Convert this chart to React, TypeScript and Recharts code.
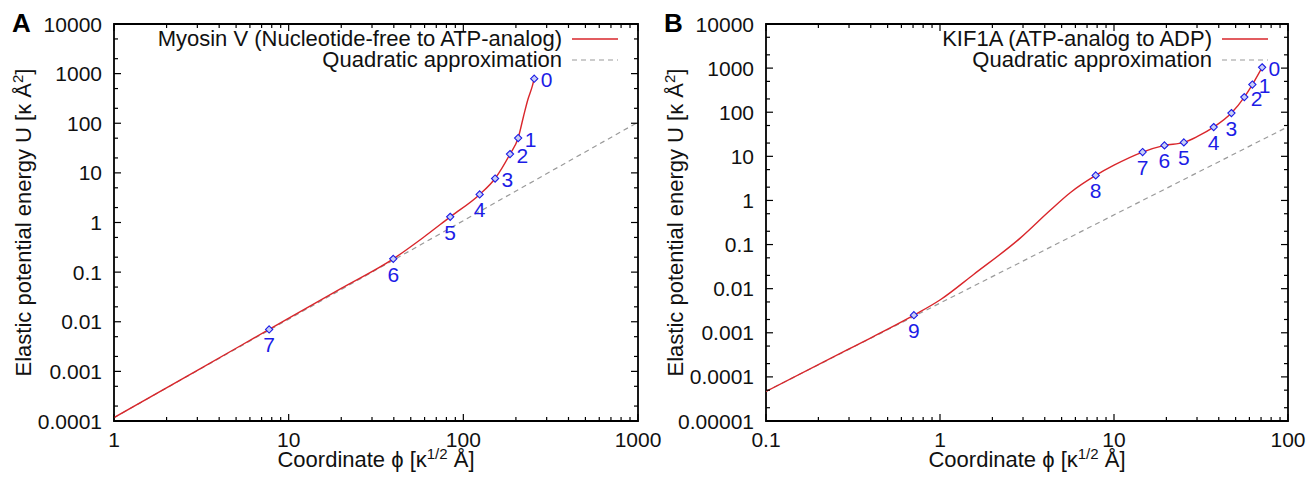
import React from "react";
import { ComposedChart, Line, Scatter, XAxis, YAxis, Legend, ReferenceArea } from "recharts";

const FONT = '"Liberation Sans", Arial, Helvetica, sans-serif';
const RED = "#d9262b";
const GREY = "#9a9a9a";
const BLUE = "#1c1ce6";
const QUAD = "Quadratic approximation";

// panel A - Myosin V
const nameA = "Myosin V (Nucleotide-free to ATP-analog)";
const curvePhiA = [1, 3, 7.73, 20, 39.7, 59, 84.1, 124, 152, 185, 206, 221, 234, 248, 254.6];
const curveUA = [1.17e-4, 1.05e-3, 0.007, 0.047, 0.185, 0.5, 1.3, 3.67, 7.7, 23.9, 50.3, 137, 298, 552, 789];
const quadPhiA = [1, 1000];
const quadUA = [1.17e-4, 105];
const markPhiA = [254.6, 206, 185, 152, 124, 84.1, 39.7, 7.73];
const markUA = [789, 50.3, 23.9, 7.7, 3.67, 1.3, 0.185, 0.007];
const markNamesA = ["0", "1", "2", "3", "4", "5", "6", "7"];
const xMajorA = [1, 10, 100, 1000];
const xMinorA = [2, 3, 4, 5, 6, 7, 8, 9, 20, 30, 40, 50, 60, 70, 80, 90, 200, 300, 400, 500, 600, 700, 800, 900];
const yMajorA = [0.0001, 0.001, 0.01, 0.1, 1, 10, 100, 1000, 10000];
const yMinorA = [0.0002, 0.0005, 0.002, 0.005, 0.02, 0.05, 0.2, 0.5, 2, 5, 20, 50, 200, 500, 2000, 5000];

// panel B - KIF1A
const nameB = "KIF1A (ATP-analog to ADP)";
const curvePhiB = [0.1, 0.3, 0.708, 1.004, 1.56, 2.89, 4.3, 5.6, 7.85, 10, 14.6, 19.5, 25.2, 30, 37.4, 47.3, 56.1, 62.4, 71];
const curveUB = [4.67e-5, 4.3e-4, 0.0025, 0.0056, 0.021, 0.14, 0.6, 1.5, 3.7, 6.3, 12.5, 17.7, 20.7, 28, 46, 95.5, 220, 424, 1040];
const quadPhiB = [0.1, 100];
const quadUB = [4.7e-5, 47];
const markPhiB = [71, 62.4, 56.1, 47.3, 37.4, 25.2, 19.5, 14.6, 7.85, 0.708];
const markUB = [1040, 424, 220, 95.5, 46, 20.7, 17.7, 12.5, 3.7, 0.0025];
const markNamesB = ["0", "1", "2", "3", "4", "5", "6", "7", "8", "9"];
const xMajorB = [0.1, 1, 10, 100];
const xMinorB = [0.2, 0.3, 0.4, 0.5, 0.6, 0.7, 0.8, 0.9, 2, 3, 4, 5, 6, 7, 8, 9, 20, 30, 40, 50, 60, 70, 80, 90];
const yMajorB = [0.00001, 0.0001, 0.001, 0.01, 0.1, 1, 10, 100, 1000, 10000];
const yMinorB = [0.00002, 0.00005, 0.0002, 0.0005, 0.002, 0.005, 0.02, 0.05, 0.2, 0.5, 2, 5, 20, 50, 200, 500, 2000, 5000];

const W = 657;
const H = 477;
const TOP = 24;
const BOTTOM = 421;
const AXIS_H = 30;
const YAXIS_W = 70;

const zip = (xs: number[], ys: number[]) => xs.map((x, i) => ({ x, u: ys[i] }));

type Pt = { x: number; u: number };
type PanelCfg = {
  letter: string;
  name: string;
  curve: Pt[];
  quad: Pt[];
  marks: (Pt & { label: string; right: boolean })[];
  xDomain: [number, number];
  yDomain: [number, number];
  xMajor: number[];
  xMinor: number[];
  yMajor: number[];
  yMinor: number[];
  left: number;
  right: number;
};

const panelA: PanelCfg = {
  letter: "A",
  name: nameA,
  curve: zip(curvePhiA, curveUA),
  quad: zip(quadPhiA, quadUA),
  marks: markPhiA.map((x, i) => ({ x, u: markUA[i], label: markNamesA[i], right: i < 4 })),
  xDomain: [1, 1000],
  yDomain: [0.0001, 10000],
  xMajor: xMajorA,
  xMinor: xMinorA,
  yMajor: yMajorA,
  yMinor: yMinorA,
  left: 114,
  right: 638,
};

const panelB: PanelCfg = {
  letter: "B",
  name: nameB,
  curve: zip(curvePhiB, curveUB),
  quad: zip(quadPhiB, quadUB),
  marks: markPhiB.map((x, i) => ({ x, u: markUB[i], label: markNamesB[i], right: i < 3 })),
  xDomain: [0.1, 100],
  yDomain: [0.00001, 10000],
  xMajor: xMajorB,
  xMinor: xMinorB,
  yMajor: yMajorB,
  yMinor: yMinorB,
  left: 109,
  right: 631,
};

function Marker(props: any) {
  const { cx, cy, payload } = props;
  if (cx == null || cy == null) return null;
  const r = 3.6;
  return (
    <g>
      <path
        d={`M${cx},${cy - r} L${cx + r},${cy} L${cx},${cy + r} L${cx - r},${cy} Z`}
        fill="#c9cff5"
        stroke={BLUE}
        strokeWidth={1.1}
      />
      {payload.right ? (
        <text x={cx + 6.5} y={cy + 1} dy="0.36em" fill={BLUE} fontSize={21} fontFamily={FONT}>
          {payload.label}
        </text>
      ) : (
        <text x={cx} y={cy + 23} textAnchor="middle" fill={BLUE} fontSize={21} fontFamily={FONT}>
          {payload.label}
        </text>
      )}
    </g>
  );
}

function Panel({ cfg }: { cfg: PanelCfg }) {
  const bottom = H - BOTTOM - AXIS_H;
  const margin = { top: TOP, right: W - cfg.right, bottom, left: cfg.left - YAXIS_W };

  const xTick = (p: any) => {
    const v = p.payload.value;
    const major = cfg.xMajor.includes(v);
    const len = major ? 7 : 4;
    return (
      <g>
        <line x1={p.x} x2={p.x} y1={p.y} y2={p.y - len} stroke="#000" strokeWidth={1.2} />
        <line x1={p.x} x2={p.x} y1={TOP} y2={TOP + len} stroke="#000" strokeWidth={1.2} />
        {major && (
          <text x={p.x} y={p.y + 26} textAnchor="middle" fontSize={21} fontFamily={FONT} fill="#111">
            {String(v)}
          </text>
        )}
      </g>
    );
  };

  const yTick = (p: any) => {
    const v = p.payload.value;
    const major = cfg.yMajor.includes(v);
    const len = major ? 7 : 4;
    return (
      <g>
        <line x1={p.x} x2={p.x + len} y1={p.y} y2={p.y} stroke="#000" strokeWidth={1.2} />
        <line x1={cfg.right} x2={cfg.right - len} y1={p.y} y2={p.y} stroke="#000" strokeWidth={1.2} />
        {major && (
          <text x={p.x - 12} y={p.y} dy="0.36em" textAnchor="end" fontSize={21} fontFamily={FONT} fill="#111">
            {String(v)}
          </text>
        )}
      </g>
    );
  };

  const xTitle = (props: any) => {
    const vb = props.viewBox;
    return (
      <text x={vb.x + vb.width / 2} y={vb.y + 46} textAnchor="middle" fontSize={22} fontFamily={FONT} fill="#111">
        Coordinate ϕ [κ
        <tspan dy={-8} fontSize={15}>1/2</tspan>
        <tspan dy={8}> Å]</tspan>
      </text>
    );
  };

  const yTitle = (props: any) => {
    const vb = props.viewBox;
    const cx = cfg.left - 91;
    const cy = vb.y + vb.height / 2;
    return (
      <text
        x={cx}
        y={cy}
        dy="0.36em"
        transform={`rotate(-90 ${cx} ${cy})`}
        textAnchor="middle"
        fontSize={22}
        fontFamily={FONT}
        fill="#111"
      >
        Elastic potential energy U [κ Å
        <tspan dy={-8} fontSize={15}>2</tspan>
        <tspan dy={8}>]</tspan>
      </text>
    );
  };

  const legend = (props: any) => {
    const items = (props.payload || [])
      .filter((e: any) => e.value === cfg.name || e.value === QUAD)
      .sort((a: any, b: any) => (a.value === QUAD ? 1 : 0) - (b.value === QUAD ? 1 : 0));
    return (
      <div style={{ fontFamily: FONT, fontSize: 22, lineHeight: "21.3px", color: "#111" }}>
        {items.map((e: any) => (
          <div key={e.value} style={{ display: "flex", justifyContent: "flex-end", alignItems: "center" }}>
            <span style={{ whiteSpace: "nowrap" }}>{e.value}</span>
            <svg width={56} height={10} style={{ display: "block" }}>
              <line
                x1={10}
                x2={56}
                y1={5}
                y2={5}
                stroke={e.value === QUAD ? GREY : RED}
                strokeWidth={e.value === QUAD ? 1.2 : 1.5}
                strokeDasharray={e.value === QUAD ? "5 4" : undefined}
              />
            </svg>
          </div>
        ))}
      </div>
    );
  };

  return (
    <div style={{ position: "relative", width: W, height: H }}>
      <ComposedChart width={W} height={H} margin={margin}>
        <XAxis
          dataKey="x"
          type="number"
          scale="log"
          domain={cfg.xDomain}
          allowDataOverflow
          ticks={[...cfg.xMajor, ...cfg.xMinor]}
          interval={0}
          tickSize={0}
          tickMargin={0}
          tickLine={false}
          axisLine={false}
          height={AXIS_H}
          tick={xTick}
          label={{ content: xTitle }}
        />
        <YAxis
          dataKey="u"
          type="number"
          scale="log"
          domain={cfg.yDomain}
          allowDataOverflow
          ticks={[...cfg.yMajor, ...cfg.yMinor]}
          interval={0}
          tickSize={0}
          tickMargin={0}
          tickLine={false}
          axisLine={false}
          width={YAXIS_W}
          tick={yTick}
          label={{ content: yTitle }}
        />
        <ReferenceArea
          x1={cfg.xDomain[0]}
          x2={cfg.xDomain[1]}
          y1={cfg.yDomain[0]}
          y2={cfg.yDomain[1]}
          fill="none"
          stroke="#000"
          strokeWidth={1.8}
          ifOverflow="visible"
        />
        <Line
          data={cfg.quad}
          dataKey="u"
          name={QUAD}
          type="linear"
          stroke={GREY}
          strokeWidth={1.2}
          strokeDasharray="5 4"
          dot={false}
          isAnimationActive={false}
        />
        <Line
          data={cfg.curve}
          dataKey="u"
          name={cfg.name}
          type="monotone"
          stroke={RED}
          strokeWidth={1.4}
          dot={false}
          isAnimationActive={false}
        />
        <Scatter
          data={cfg.marks}
          dataKey="u"
          name="points"
          legendType="none"
          shape={Marker}
          isAnimationActive={false}
        />
        <Legend
          layout="horizontal"
          verticalAlign="middle"
          align="center"
          content={legend}
          wrapperStyle={{ top: 28, right: W - cfg.right + 20, left: "auto", width: "auto", height: "auto" }}
        />
      </ComposedChart>
    </div>
  );
}

export default function App() {
  return (
    <div style={{ position: "absolute", left: 0, top: 0, width: 1314, height: 477, background: "#fff" }}>
      <style>{`.recharts-surface { overflow: visible; }`}</style>
      <div style={{ position: "absolute", left: 0, top: 0 }}>
        <Panel cfg={panelA} />
      </div>
      <div style={{ position: "absolute", left: 657, top: 0 }}>
        <Panel cfg={panelB} />
      </div>
      <div style={{ position: "absolute", left: 12, top: 10, font: `bold 26px/26px ${FONT}` }}>{panelA.letter}</div>
      <div style={{ position: "absolute", left: 664, top: 10, font: `bold 26px/26px ${FONT}` }}>{panelB.letter}</div>
    </div>
  );
}
